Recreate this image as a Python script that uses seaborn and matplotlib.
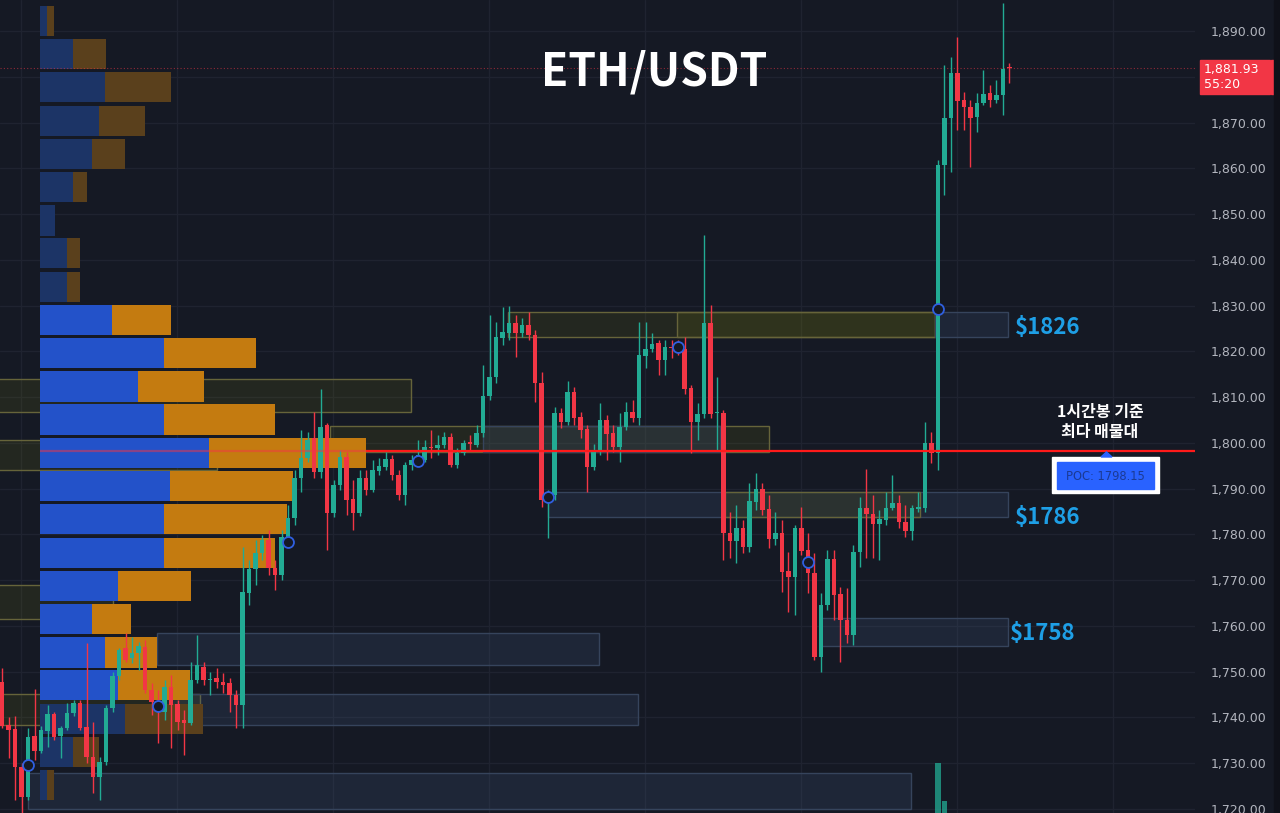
import matplotlib
matplotlib.use("Agg")
import matplotlib.pyplot as plt
import matplotlib.patches as mpatches
from matplotlib.colors import to_rgba
from matplotlib.ticker import FuncFormatter
import numpy as np
import seaborn as sns

BG = '#151924'
UP = '#22ab94'
DOWN = '#f23645'

# ETH/USDT 1h candles
opens = [1747.7, 1738.3, 1737.5, 1729.2, 1722.6, 1735.9, 1732.7, 1737.0, 1740.7, 1735.9,
         1737.7, 1741.0, 1743.1, 1737.9, 1731.3, 1727.0, 1730.3, 1742.1, 1749.0, 1755.2,
         1753.0, 1754.1, 1755.4, 1746.0, 1743.4, 1741.2, 1746.6, 1742.9, 1739.4, 1738.8,
         1748.2, 1751.0, 1748.2, 1748.6, 1747.7, 1747.5, 1744.9, 1742.7, 1767.2, 1772.4,
         1775.9, 1778.8, 1772.7, 1771.1, 1779.4, 1783.6, 1792.3, 1796.7, 1801.1, 1793.6,
         1803.9, 1784.7, 1790.8, 1796.9, 1787.7, 1784.7, 1792.3, 1789.7, 1793.9, 1794.7,
         1796.5, 1793.0, 1788.6, 1795.2, 1796.0, 1796.2, 1799.1, 1798.9, 1799.5, 1801.3,
         1795.2, 1797.8, 1800.2, 1799.5, 1802.2, 1810.2, 1814.4, 1822.9, 1824.0, 1826.2,
         1824.0, 1825.8, 1823.6, 1813.1, 1787.5, 1788.6, 1806.5, 1804.6, 1811.1, 1805.6,
         1803.0, 1794.7, 1798.4, 1805.0, 1802.2, 1799.1, 1803.5, 1806.7, 1805.4, 1819.0,
         1820.5, 1821.8, 1818.1, 1820.9, 1820.9, 1820.5, 1812.0, 1804.6, 1806.3, 1826.2,
         1806.5, 1806.5, 1780.3, 1778.5, 1781.4, 1777.2, 1787.1, 1789.9, 1785.5, 1779.0,
         1780.3, 1772.0, 1770.7, 1781.4, 1776.6, 1771.6, 1753.2, 1764.6, 1774.6, 1766.9,
         1761.3, 1758.0, 1776.1, 1785.8, 1784.4, 1782.3, 1783.1, 1785.8, 1786.9, 1782.7,
         1780.7, 1785.5, 1785.8, 1800.0, 1797.8, 1860.7, 1871.0, 1880.8, 1874.9, 1873.4,
         1871.2, 1874.3, 1876.4, 1874.9, 1876.0, 1882.1]
highs = [1750.8, 1740.1, 1740.3, 1730.0, 1737.7, 1746.2, 1738.1, 1742.7, 1741.2, 1738.1,
         1743.1, 1743.8, 1743.8, 1756.3, 1739.0, 1731.3, 1742.7, 1749.9, 1755.2, 1758.4,
         1757.6, 1756.5, 1756.9, 1747.5, 1746.0, 1748.2, 1749.3, 1743.8, 1741.6, 1752.1,
         1758.0, 1752.1, 1749.9, 1750.8, 1749.7, 1748.6, 1746.0, 1777.2, 1774.4, 1778.8,
         1779.9, 1781.0, 1774.4, 1781.0, 1786.4, 1794.1, 1802.8, 1802.4, 1806.7, 1811.8,
         1804.3, 1791.9, 1798.4, 1798.0, 1791.9, 1794.1, 1794.1, 1796.2, 1796.7, 1798.0,
         1797.3, 1794.1, 1795.8, 1797.3, 1800.6, 1800.6, 1802.8, 1801.7, 1802.4, 1802.1,
         1798.9, 1800.6, 1801.7, 1803.9, 1817.0, 1827.9, 1826.4, 1829.7, 1829.9, 1827.9,
         1827.3, 1828.6, 1824.6, 1815.5, 1789.7, 1807.8, 1807.6, 1813.5, 1812.2, 1806.7,
         1803.9, 1799.7, 1808.7, 1806.1, 1803.9, 1806.5, 1808.9, 1809.4, 1826.4, 1826.4,
         1824.0, 1822.5, 1822.5, 1822.5, 1822.5, 1823.1, 1812.6, 1808.7, 1845.4, 1830.1,
         1814.4, 1807.2, 1784.9, 1786.4, 1783.1, 1791.2, 1793.4, 1791.2, 1788.6, 1784.9,
         1783.1, 1776.1, 1782.0, 1786.0, 1780.3, 1775.9, 1767.2, 1776.6, 1776.6, 1768.5,
         1768.3, 1777.7, 1788.2, 1794.3, 1788.6, 1785.3, 1789.2, 1793.0, 1788.6, 1786.4,
         1786.4, 1789.2, 1804.6, 1802.4, 1861.8, 1882.6, 1884.3, 1888.7, 1876.7, 1874.9,
         1876.4, 1881.5, 1878.2, 1879.3, 1896.1, 1883.0]
lows = [1737.7, 1731.1, 1722.0, 1719.1, 1722.0, 1730.7, 1732.2, 1733.5, 1735.1, 1731.1,
        1737.2, 1740.3, 1737.2, 1730.0, 1723.5, 1722.0, 1729.6, 1741.2, 1748.2, 1752.1,
        1751.9, 1750.4, 1745.3, 1740.5, 1734.4, 1739.4, 1733.3, 1737.2, 1731.8, 1738.3,
        1747.5, 1747.1, 1744.9, 1746.4, 1745.3, 1741.2, 1737.7, 1737.7, 1764.6, 1768.9,
        1774.4, 1771.1, 1767.8, 1770.0, 1777.7, 1782.0, 1789.3, 1795.8, 1792.3, 1792.3,
        1776.6, 1783.8, 1789.7, 1784.2, 1781.0, 1784.0, 1788.6, 1789.3, 1793.0, 1794.1,
        1791.9, 1787.5, 1786.4, 1794.1, 1795.2, 1795.8, 1796.7, 1797.3, 1798.9, 1794.7,
        1794.5, 1797.3, 1798.4, 1799.1, 1801.3, 1809.4, 1813.1, 1821.4, 1822.5, 1818.8,
        1823.1, 1822.5, 1808.9, 1786.0, 1779.2, 1787.5, 1803.3, 1803.9, 1803.9, 1801.1,
        1789.3, 1794.1, 1797.3, 1796.2, 1798.0, 1795.8, 1802.8, 1804.6, 1803.9, 1816.4,
        1819.8, 1814.8, 1814.8, 1818.5, 1819.2, 1810.7, 1797.8, 1800.6, 1805.4, 1805.4,
        1798.4, 1774.4, 1774.8, 1773.7, 1775.9, 1776.1, 1785.3, 1784.2, 1777.0, 1777.7,
        1767.4, 1763.0, 1762.4, 1775.5, 1767.2, 1752.5, 1749.9, 1763.5, 1761.3, 1752.1,
        1756.3, 1755.8, 1772.9, 1774.8, 1774.8, 1774.4, 1782.0, 1785.3, 1781.4, 1779.4,
        1778.8, 1784.9, 1784.9, 1795.6, 1794.1, 1854.2, 1859.2, 1868.4, 1868.4, 1860.3,
        1867.9, 1873.8, 1873.4, 1874.3, 1871.6, 1878.6]
closes = [1738.1, 1737.2, 1729.2, 1722.6, 1735.7, 1732.7, 1737.2, 1740.7, 1735.7, 1737.7,
          1741.0, 1743.1, 1737.7, 1731.3, 1727.0, 1730.3, 1742.1, 1749.0, 1754.7, 1752.5,
          1754.1, 1755.6, 1746.0, 1743.4, 1742.5, 1746.6, 1742.7, 1739.0, 1738.8, 1748.2,
          1751.5, 1748.2, 1748.4, 1747.7, 1747.1, 1744.9, 1742.7, 1767.4, 1772.4, 1775.9,
          1778.8, 1772.7, 1771.1, 1779.4, 1783.6, 1792.3, 1796.7, 1800.6, 1793.6, 1803.5,
          1784.7, 1790.8, 1796.9, 1787.5, 1784.7, 1792.3, 1789.7, 1794.1, 1794.9, 1796.5,
          1793.0, 1788.6, 1795.2, 1796.2, 1797.3, 1799.1, 1798.9, 1799.5, 1801.3, 1795.2,
          1797.8, 1800.0, 1799.7, 1802.2, 1810.2, 1814.4, 1823.1, 1824.2, 1826.2, 1824.0,
          1825.8, 1823.6, 1813.1, 1787.5, 1788.6, 1806.5, 1804.6, 1811.1, 1805.4, 1802.8,
          1794.7, 1798.4, 1805.0, 1801.9, 1799.1, 1803.5, 1806.7, 1805.4, 1819.2, 1820.5,
          1821.6, 1818.1, 1820.9, 1820.7, 1820.5, 1811.8, 1804.6, 1806.3, 1826.2, 1806.3,
          1806.7, 1780.3, 1778.5, 1781.4, 1777.2, 1787.3, 1789.9, 1785.3, 1779.0, 1780.3,
          1771.8, 1770.7, 1781.4, 1776.4, 1771.6, 1753.2, 1764.6, 1774.6, 1766.7, 1761.3,
          1758.0, 1776.1, 1785.8, 1784.4, 1782.3, 1783.4, 1785.8, 1786.9, 1782.7, 1780.7,
          1785.8, 1786.0, 1800.0, 1797.8, 1860.7, 1871.0, 1880.8, 1874.7, 1873.4, 1871.0,
          1874.3, 1876.2, 1874.9, 1876.0, 1881.7, 1881.93]

# pivot markers
pivot_idx = [4, 24, 44, 64, 84, 104, 124, 144]
pivot_price = [1729.6, 1742.5, 1778.3, 1796.0, 1788.2, 1820.9, 1774.0, 1829.2]

# volume profile rows (price centre, buy vol, sell vol)
profile_mid = [1892.2, 1884.9, 1877.7, 1870.4, 1863.2, 1855.9, 1848.6, 1841.4,
               1834.1, 1826.9, 1819.6, 1812.3, 1805.1, 1797.8, 1790.6, 1783.3,
               1776.0, 1768.8, 1761.5, 1754.2, 1747.0, 1739.7, 1732.5, 1725.2]
profile_buy = [7, 33, 65, 59, 52, 33, 15, 27, 27, 72, 124, 98,
               124, 169, 130, 124, 124, 78, 52, 65, 78, 85, 33, 7]
profile_sell = [7, 33, 66, 46, 33, 14, 0, 13, 13, 59, 92, 66,
                111, 157, 123, 123, 111, 73, 39, 52, 72, 78, 26, 7]
value_area = [False] * 9 + [True] * 12 + [False] * 3
poc_price = 1798.15
last_price = 1881.93

# supply / demand zones
zone_start = [-2, -2, 50.5, 74, 77.8, 103.8, 143.5, 84, 111.2, 125.8, -2, 23.8, -2, 23.8, 4]
zone_end = [62.9, 33, 118, 110.5, 143.5, 143.5, 154.8, 154.8, 141.2, 154.8, 17, 91.8, 30.5, 97.8, 139.8]
zone_top = [1813.95, 1800.6, 1803.7, 1803.7, 1828.6, 1828.6, 1828.6, 1789.3, 1789.3,
            1761.7, 1768.9, 1758.4, 1745.1, 1745.1, 1727.85]
zone_bottom = [1806.74, 1794.1, 1797.9, 1798.0, 1823.1, 1823.1, 1823.1, 1783.8, 1783.8,
               1755.6, 1761.5, 1751.5, 1738.3, 1738.3, 1720.0]
zone_kind = ['olive', 'olive', 'olive', 'blue', 'olive', 'olive', 'blue', 'blue', 'olive',
             'blue', 'olive', 'blue', 'olive', 'blue', 'blue']

level_labels = ['$1826', '$1786', '$1758']
level_prices = [1825.3, 1783.6, 1758.4]
level_x = [155.8, 155.8, 155.1]

vol_idx = [144, 145]
vol_val = [61.5, 14.8]

sns.set_theme(style='dark', rc={'axes.facecolor': BG, 'figure.facecolor': BG,
                                'axes.edgecolor': BG})
plt.rcParams['font.family'] = ['Noto Sans CJK KR', 'DejaVu Sans']

W, H = 1280, 813
fig = plt.figure(figsize=(12.8, 8.13), dpi=100)


def fxy(px, py):
    return px / W, 1 - py / H


rect = [0, 0, 1195 / W, 1]
ax_bg = fig.add_axes(rect)
ax_p = fig.add_axes(rect, sharey=ax_bg)
ax_v = fig.add_axes(rect, sharex=ax_bg)
ax = fig.add_axes(rect, sharex=ax_bg, sharey=ax_bg)
for a, z in [(ax_bg, 0), (ax_p, 1), (ax_v, 1.5), (ax, 2)]:
    a.set_zorder(z)
    for s in a.spines.values():
        s.set_visible(False)
for a in (ax_p, ax_v, ax):
    a.patch.set_visible(False)

# grid + zones
grid_x = [2.92, 26.92, 50.92, 74.92, 98.92, 122.92, 146.92, 170.92]
ax_bg.set_xticks(grid_x)
ax_bg.set_yticks(np.arange(1720, 1891, 10))
ax_bg.grid(True, color='#1f2330', lw=1)
ax_bg.tick_params(length=0, labelbottom=False, labelleft=False)

zone_style = {'olive': ('#787b0e', 0.15, '#66643a'),
              'blue': ('#40587c', 0.22, '#36445c')}
for s, e, t, b, k in zip(zone_start, zone_end, zone_top, zone_bottom, zone_kind):
    fc, al, ec = zone_style[k]
    ax_bg.add_patch(mpatches.Rectangle((s, b), e - s, t - b, facecolor=to_rgba(fc, al),
                                       edgecolor=ec, lw=1))

# volume profile
buy_c = ['#2352c9' if v else '#1c3466' for v in value_area]
sell_c = ['#c47b10' if v else '#5a401c' for v in value_area]
ax_p.barh(profile_mid, profile_buy, height=6.6, color=buy_c, linewidth=0)
ax_p.barh(profile_mid, profile_sell, left=profile_buy, height=6.6, color=sell_c, linewidth=0)
ax_p.set_xlim(-40, 1155)
ax_p.set_axis_off()

# volume bars at the bottom
ax_v.bar(vol_idx, vol_val, width=0.9, color=UP, alpha=0.75, linewidth=0)
ax_v.set_ylim(0, 1000)
ax_v.set_axis_off()

# candles
o, h, l, c = map(np.array, (opens, highs, lows, closes))
x = np.arange(len(o))
col = np.where(c >= o, UP, DOWN)
ax.vlines(x, np.minimum(l, np.minimum(o, c)), np.maximum(h, np.maximum(o, c)),
          colors=col, lw=1, zorder=4)
ax.bar(x, np.maximum(np.abs(c - o), 0.25), bottom=np.minimum(o, c), width=0.74,
       color=col, linewidth=0, zorder=4)

# POC line (faded across the profile)
poc_row = int(np.argmin(np.abs(np.array(profile_mid) - poc_price)))
poc_end = profile_buy[poc_row] + profile_sell[poc_row]
ax.hlines(poc_price, 0, poc_end, colors=DOWN, lw=1.6, alpha=0.5,
          transform=ax_p.transData, zorder=5)
ax.hlines(poc_price, poc_end, 1160, colors='#ff1a1a', lw=1.6,
          transform=ax_p.transData, zorder=5)
ax.axhline(last_price, color=DOWN, lw=0.8, ls=(0, (1, 2)), alpha=0.55, zorder=1)

sns.scatterplot(x=pivot_idx, y=pivot_price, ax=ax, s=62, color=BG,
                edgecolor='#2f5fe0', linewidth=1.3, zorder=6)

for lab, p, xi in zip(level_labels, level_prices, level_x):
    ax.text(xi, p, lab, color='#1e9fe6', fontsize=16, fontweight='bold',
            ha='left', va='center', zorder=7)

ax.text(654 / 1195, 1 - 72 / H, 'ETH/USDT', transform=ax.transAxes, color='white',
        fontsize=32, fontweight='bold', ha='center', va='center')


# price axis on the right (the tick hidden under the last-price tag is left blank)
def price_fmt(v, _):
    if abs(v - last_price) < 5:
        return ''
    return f'{v:,.2f}'


ax.yaxis.set_major_formatter(FuncFormatter(price_fmt))
ax.yaxis.tick_right()
ax.tick_params(axis='y', length=0, pad=11, labelsize=9, labelcolor='#b2b5be',
               labelfontfamily='DejaVu Sans')
ax.tick_params(axis='x', length=0, labelbottom=False)
ax.set_xlabel('')
ax.set_ylabel('')
ax.set_xlim(-0.31, 183.54)
ax.set_ylim(1719.11, 1896.77)

# last price tag
x0, y0 = fxy(1200, 94)
fig.patches.append(mpatches.Rectangle((x0, y0), 70 / W, 34 / H, transform=fig.transFigure,
                                      color=DOWN, zorder=10))
x0, y0 = fxy(1271, 94)
fig.patches.append(mpatches.Rectangle((x0, y0), 3 / W, 34 / H, transform=fig.transFigure,
                                      color=DOWN, zorder=10))
x0, y0 = fxy(1274, 813)
fig.patches.append(mpatches.Rectangle((x0, y0), 6 / W, 1, transform=fig.transFigure,
                                      color='#0f1119', zorder=10))
tx, ty = fxy(1204, 77)
fig.text(tx, ty, f'{last_price:,.2f}\n55:20', color='white', fontsize=9,
         family='DejaVu Sans', ha='left', va='center', linespacing=1.2, zorder=11)

# POC tag
x0, y0 = fxy(1052, 493)
fig.patches.append(mpatches.Rectangle((x0, y0), 107 / W, 36 / H, transform=fig.transFigure,
                                      color='white', zorder=10))
x0, y0 = fxy(1057, 489)
fig.patches.append(mpatches.Rectangle((x0, y0), 97 / W, 27 / H, transform=fig.transFigure,
                                      color='#2962ff', zorder=11))
fig.patches.append(mpatches.Polygon([fxy(1101, 457), fxy(1112, 457), fxy(1106.5, 452)],
                                    closed=True, transform=fig.transFigure,
                                    color='#2962ff', zorder=11))
tx, ty = fxy(1105.5, 476)
fig.text(tx, ty, f'POC: {poc_price:.2f}', color='#1b3a94', fontsize=8.3,
         family='DejaVu Sans', ha='center', va='center', zorder=12)

tx, ty = fxy(1100, 422)
fig.text(tx, ty, '1시간봉 기준\n최다 매물대', color='white', fontsize=11.5, fontweight='bold',
         ha='center', va='center', linespacing=1.25, zorder=12)

fig.savefig('out.png', dpi=100, facecolor=BG)
